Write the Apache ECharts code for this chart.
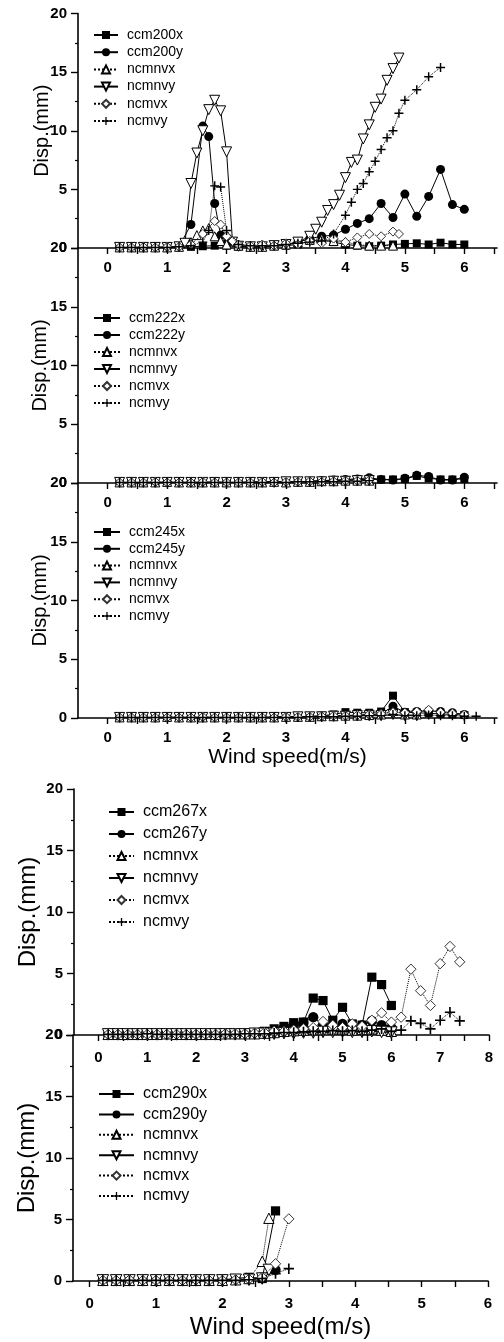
<!DOCTYPE html>
<html><head><meta charset="utf-8">
<script src="https://cdn.jsdelivr.net/npm/echarts@6/dist/echarts.min.js"></script>
<style>html,body{margin:0;padding:0;background:#fff}#c{width:504px;height:1342px}</style>
</head><body><div id="c"></div>
<script>
// ---------- tick labels ----------
const yTicks = [0, 5, 10, 15, 20];
const xLabels6 = [0, 1, 2, 3, 4, 5, 6];
const xTicks6 = [0, 0.5, 1, 1.5, 2, 2.5, 3, 3.5, 4, 4.5, 5, 5.5, 6, 6.5];
const xLabels8 = [0, 1, 2, 3, 4, 5, 6, 7, 8];
const xTicks8 = [0, 0.5, 1, 1.5, 2, 2.5, 3, 3.5, 4, 4.5, 5, 5.5, 6, 6.5, 7, 7.5, 8];
const xTicks6b = [0, 0.5, 1, 1.5, 2, 2.5, 3, 3.5, 4, 4.5, 5, 5.5, 6];

const legendNames1 = ['ccm200x', 'ccm200y', 'ncmnvx', 'ncmnvy', 'ncmvx', 'ncmvy'];
const legendNames2 = ['ccm222x', 'ccm222y', 'ncmnvx', 'ncmnvy', 'ncmvx', 'ncmvy'];
const legendNames3 = ['ccm245x', 'ccm245y', 'ncmnvx', 'ncmnvy', 'ncmvx', 'ncmvy'];
const legendNames4 = ['ccm267x', 'ccm267y', 'ncmnvx', 'ncmnvy', 'ncmvx', 'ncmvy'];
const legendNames5 = ['ccm290x', 'ccm290y', 'ncmnvx', 'ncmnvy', 'ncmvx', 'ncmvy'];

// ---------- panel 1 (ccm200) ----------
const p1_ccmx = [[0.2,0.05],[0.4,0.05],[0.6,0.05],[0.8,0.05],[1.0,0.05],[1.2,0.1],[1.4,0.1],[1.6,0.15],[1.8,0.2],[2.0,0.2],[2.2,0.1],[2.4,0.1],[2.6,0.1],[2.8,0.15],[3.0,0.2],[3.2,0.3],[3.4,0.6],[3.6,0.7],[3.8,0.5],[4.0,0.3],[4.2,0.2],[4.4,0.15],[4.6,0.2],[4.8,0.3],[5.0,0.35],[5.2,0.4],[5.4,0.3],[5.6,0.45],[5.8,0.3],[6.0,0.3]];
const p1_ccmy = [[0.2,0.05],[0.4,0.05],[0.6,0.05],[0.8,0.05],[1.0,0.1],[1.2,0.1],[1.4,2.0],[1.6,10.4],[1.7,9.5],[1.8,3.8],[1.9,1.1],[2.0,0.4],[2.2,0.2],[2.4,0.15],[2.6,0.15],[2.8,0.2],[3.0,0.3],[3.2,0.5],[3.4,0.8],[3.6,1.0],[3.8,1.1],[4.0,1.6],[4.2,2.1],[4.4,2.5],[4.6,3.8],[4.8,2.6],[5.0,4.6],[5.2,2.7],[5.4,4.4],[5.6,6.7],[5.8,3.7],[6.0,3.3]];
const p1_nvx = [[0.2,0.05],[0.4,0.05],[0.6,0.05],[0.8,0.05],[1.0,0.05],[1.2,0.1],[1.4,0.5],[1.5,1.1],[1.6,1.5],[1.7,1.7],[1.8,1.0],[1.9,0.6],[2.0,0.3],[2.2,0.2],[2.4,0.1],[2.6,0.1],[2.8,0.2],[3.0,0.3],[3.2,0.5],[3.4,0.7],[3.6,0.8],[3.8,0.6],[4.0,0.5],[4.2,0.3],[4.4,0.2],[4.6,0.2],[4.8,0.2]];
const p1_nvy = [[0.2,0.05],[0.4,0.05],[0.6,0.05],[0.8,0.05],[1.0,0.05],[1.2,0.1],[1.3,0.4],[1.4,5.5],[1.5,8.1],[1.6,10.0],[1.7,11.8],[1.8,12.6],[1.9,11.7],[2.0,8.2],[2.1,0.5],[2.2,0.15],[2.4,0.1],[2.6,0.1],[2.8,0.2],[3.0,0.3],[3.2,0.5],[3.4,1.0],[3.5,1.6],[3.6,2.2],[3.7,3.2],[3.8,3.7],[3.9,4.5],[4.0,6.0],[4.1,7.3],[4.2,7.5],[4.3,9.3],[4.4,10.5],[4.5,12.0],[4.6,12.7],[4.7,14.3],[4.8,15.3],[4.9,16.2]];
const p1_vx = [[0.2,0.05],[0.4,0.05],[0.6,0.1],[0.8,0.05],[1.0,0.1],[1.2,0.1],[1.4,0.3],[1.6,1.2],[1.8,2.3],[1.9,2.0],[2.0,1.0],[2.1,0.6],[2.2,0.3],[2.4,0.2],[2.6,0.3],[2.8,0.2],[3.0,0.4],[3.2,0.3],[3.4,0.6],[3.6,0.4],[3.8,0.8],[4.0,0.5],[4.2,0.9],[4.4,1.2],[4.6,1.0],[4.8,1.4],[4.9,1.2]];
const p1_vy = [[0.2,0.05],[0.4,0.05],[0.6,0.05],[0.8,0.05],[1.0,0.05],[1.2,0.1],[1.4,0.2],[1.6,0.5],[1.7,1.5],[1.8,5.3],[1.9,5.2],[2.0,1.5],[2.2,0.3],[2.4,0.2],[2.6,0.2],[2.8,0.2],[3.0,0.3],[3.2,0.4],[3.4,0.5],[3.6,0.6],[3.8,1.2],[4.0,2.8],[4.1,3.9],[4.2,5.0],[4.3,5.5],[4.4,6.5],[4.5,7.4],[4.6,8.4],[4.7,9.4],[4.8,10.0],[4.9,11.5],[5.0,12.6],[5.2,13.5],[5.4,14.6],[5.6,15.4]];

// ---------- panel 2 (ccm222) ----------
const p2_ccmx = [[0.2,0.05],[0.4,0.05],[0.6,0.05],[0.8,0.05],[1.0,0.05],[1.2,0.05],[1.4,0.05],[1.6,0.05],[1.8,0.1],[2.0,0.05],[2.2,0.05],[2.4,0.05],[2.6,0.1],[2.8,0.1],[3.0,0.1],[3.2,0.1],[3.4,0.15],[3.6,0.2],[3.8,0.2],[4.0,0.25],[4.2,0.3],[4.4,0.3],[4.6,0.3],[4.8,0.3],[5.0,0.35],[5.2,0.6],[5.4,0.4],[5.6,0.3],[5.8,0.3],[6.0,0.35]];
const p2_ccmy = [[0.2,0.05],[0.4,0.05],[0.6,0.05],[0.8,0.05],[1.0,0.05],[1.2,0.05],[1.4,0.05],[1.6,0.05],[1.8,0.05],[2.0,0.05],[2.2,0.05],[2.4,0.1],[2.6,0.1],[2.8,0.1],[3.0,0.1],[3.2,0.1],[3.4,0.15],[3.6,0.2],[3.8,0.25],[4.0,0.3],[4.2,0.35],[4.4,0.45],[4.6,0.3],[4.8,0.25],[5.0,0.4],[5.2,0.65],[5.4,0.55],[5.6,0.25],[5.8,0.25],[6.0,0.5]];
const p2_nvx = [[0.2,0.05],[0.4,0.05],[0.6,0.05],[0.8,0.05],[1.0,0.1],[1.2,0.05],[1.4,0.05],[1.6,0.05],[1.8,0.05],[2.0,0.05],[2.2,0.05],[2.4,0.05],[2.6,0.05],[2.8,0.1],[3.0,0.05],[3.2,0.1],[3.4,0.1],[3.6,0.15],[3.8,0.15],[4.0,0.2],[4.2,0.2],[4.4,0.2]];
const p2_nvy = [[0.2,0.05],[0.4,0.05],[0.6,0.05],[0.8,0.05],[1.0,0.05],[1.2,0.05],[1.4,0.05],[1.6,0.05],[1.8,0.05],[2.0,0.05],[2.2,0.05],[2.4,0.05],[2.6,0.05],[2.8,0.05],[3.0,0.1],[3.2,0.1],[3.4,0.1],[3.6,0.1],[3.8,0.15],[4.0,0.15],[4.2,0.2],[4.4,0.2]];
const p2_vx = [[0.2,0.05],[0.4,0.05],[0.6,0.05],[0.8,0.1],[1.0,0.05],[1.2,0.05],[1.4,0.05],[1.6,0.1],[1.8,0.05],[2.0,0.05],[2.2,0.05],[2.4,0.05],[2.6,0.1],[2.8,0.05],[3.0,0.1],[3.2,0.1],[3.4,0.15],[3.6,0.1],[3.8,0.15],[4.0,0.2],[4.2,0.2],[4.4,0.25]];
const p2_vy = [[0.2,0.05],[0.4,0.05],[0.6,0.05],[0.8,0.05],[1.0,0.05],[1.2,0.05],[1.4,0.05],[1.6,0.05],[1.8,0.05],[2.0,0.05],[2.2,0.05],[2.4,0.05],[2.6,0.05],[2.8,0.05],[3.0,0.05],[3.2,0.1],[3.4,0.1],[3.6,0.1],[3.8,0.1],[4.0,0.15],[4.2,0.15],[4.4,0.2]];

// ---------- panel 3 (ccm245) ----------
const p3_ccmx = [[0.2,0.05],[0.4,0.05],[0.6,0.05],[0.8,0.05],[1.0,0.05],[1.2,0.05],[1.4,0.05],[1.6,0.05],[1.8,0.05],[2.0,0.05],[2.2,0.05],[2.4,0.05],[2.6,0.05],[2.8,0.1],[3.0,0.1],[3.2,0.1],[3.4,0.15],[3.6,0.2],[3.8,0.3],[4.0,0.5],[4.2,0.45],[4.4,0.45],[4.6,0.55],[4.8,1.9],[5.0,0.5],[5.2,0.45],[5.4,0.4],[5.6,0.35],[5.8,0.3],[6.0,0.25]];
const p3_ccmy = [[0.2,0.05],[0.4,0.05],[0.6,0.05],[0.8,0.05],[1.0,0.05],[1.2,0.05],[1.4,0.05],[1.6,0.05],[1.8,0.05],[2.0,0.05],[2.2,0.05],[2.4,0.05],[2.6,0.05],[2.8,0.05],[3.0,0.1],[3.2,0.1],[3.4,0.1],[3.6,0.15],[3.8,0.2],[4.0,0.2],[4.2,0.25],[4.4,0.3],[4.6,0.35],[4.8,1.0],[5.0,0.5],[5.2,0.55],[5.4,0.6],[5.6,0.55],[5.8,0.45],[6.0,0.3]];
const p3_nvx = [[0.2,0.05],[0.4,0.05],[0.6,0.05],[0.8,0.05],[1.0,0.1],[1.2,0.05],[1.4,0.05],[1.6,0.05],[1.8,0.05],[2.0,0.05],[2.2,0.05],[2.4,0.05],[2.6,0.05],[2.8,0.05],[3.0,0.1],[3.2,0.1],[3.4,0.1],[3.6,0.15],[3.8,0.15],[4.0,0.2],[4.2,0.2],[4.4,0.25],[4.6,0.3],[4.8,0.6],[5.0,0.3],[5.2,0.3]];
const p3_nvy = [[0.2,0.05],[0.4,0.05],[0.6,0.05],[0.8,0.05],[1.0,0.05],[1.2,0.05],[1.4,0.05],[1.6,0.05],[1.8,0.05],[2.0,0.05],[2.2,0.05],[2.4,0.05],[2.6,0.05],[2.8,0.05],[3.0,0.05],[3.2,0.1],[3.4,0.1],[3.6,0.1],[3.8,0.15],[4.0,0.15],[4.2,0.2],[4.4,0.2],[4.6,0.2],[4.8,0.3],[5.0,0.2],[5.2,0.2]];
const p3_vx = [[0.2,0.05],[0.4,0.05],[0.6,0.05],[0.8,0.05],[1.0,0.05],[1.2,0.05],[1.4,0.05],[1.6,0.1],[1.8,0.05],[2.0,0.05],[2.2,0.05],[2.4,0.05],[2.6,0.05],[2.8,0.05],[3.0,0.1],[3.2,0.1],[3.4,0.1],[3.6,0.15],[3.8,0.2],[4.0,0.2],[4.2,0.25],[4.4,0.3],[4.6,0.35],[4.8,0.5],[5.0,0.45],[5.2,0.55],[5.4,0.7],[5.6,0.5],[5.8,0.4],[6.0,0.3]];
const p3_vy = [[0.2,0.05],[0.4,0.05],[0.6,0.05],[0.8,0.05],[1.0,0.05],[1.2,0.05],[1.4,0.05],[1.6,0.05],[1.8,0.05],[2.0,0.05],[2.2,0.05],[2.4,0.05],[2.6,0.05],[2.8,0.05],[3.0,0.05],[3.2,0.05],[3.4,0.1],[3.6,0.1],[3.8,0.1],[4.0,0.15],[4.2,0.15],[4.4,0.2],[4.6,0.2],[4.8,0.3],[5.0,0.2],[5.2,0.2],[5.4,0.25],[5.6,0.2],[5.8,0.2],[6.0,0.15],[6.2,0.15]];

// ---------- panel 4 (ccm267) ----------
const p4_ccmx = [[0.2,0.05],[0.4,0.05],[0.6,0.05],[0.8,0.05],[1.0,0.05],[1.2,0.05],[1.4,0.05],[1.6,0.05],[1.8,0.05],[2.0,0.05],[2.2,0.1],[2.4,0.1],[2.6,0.1],[2.8,0.1],[3.0,0.1],[3.2,0.2],[3.4,0.3],[3.6,0.5],[3.8,0.7],[4.0,1.0],[4.2,1.05],[4.4,3.0],[4.6,2.8],[4.8,1.2],[5.0,2.25],[5.2,0.9],[5.4,0.8],[5.6,4.7],[5.8,4.1],[6.0,2.4]];
const p4_ccmy = [[0.2,0.05],[0.4,0.05],[0.6,0.05],[0.8,0.05],[1.0,0.05],[1.2,0.05],[1.4,0.05],[1.6,0.05],[1.8,0.05],[2.0,0.05],[2.2,0.05],[2.4,0.1],[2.6,0.1],[2.8,0.1],[3.0,0.1],[3.2,0.15],[3.4,0.2],[3.6,0.4],[3.8,0.6],[4.0,0.8],[4.2,1.0],[4.4,1.45],[4.6,0.8],[4.8,0.7],[5.0,0.9],[5.2,0.7],[5.4,0.8],[5.6,1.15],[5.8,0.8],[6.0,0.6]];
const p4_nvx = [[0.2,0.05],[0.4,0.05],[0.6,0.05],[0.8,0.05],[1.0,0.05],[1.2,0.05],[1.4,0.1],[1.6,0.05],[1.8,0.05],[2.0,0.05],[2.2,0.05],[2.4,0.05],[2.6,0.1],[2.8,0.1],[3.0,0.1],[3.2,0.1],[3.4,0.15],[3.6,0.2],[3.8,0.3],[4.0,0.35],[4.2,0.4],[4.4,0.5],[4.6,0.6],[4.8,0.5],[5.0,0.5],[5.2,0.4],[5.4,0.45],[5.6,0.5],[5.8,0.4],[6.0,0.3]];
const p4_nvy = [[0.2,0.05],[0.4,0.05],[0.6,0.05],[0.8,0.05],[1.0,0.05],[1.2,0.05],[1.4,0.05],[1.6,0.05],[1.8,0.05],[2.0,0.05],[2.2,0.05],[2.4,0.05],[2.6,0.05],[2.8,0.05],[3.0,0.05],[3.2,0.1],[3.4,0.1],[3.6,0.1],[3.8,0.15],[4.0,0.15],[4.2,0.2],[4.4,0.2],[4.6,0.25],[4.8,0.25],[5.0,0.3],[5.2,0.25],[5.4,0.25],[5.6,0.3],[5.8,0.25],[6.0,0.2]];
const p4_vx = [[0.2,0.05],[0.4,0.05],[0.6,0.05],[0.8,0.05],[1.0,0.05],[1.2,0.05],[1.4,0.05],[1.6,0.05],[1.8,0.05],[2.0,0.05],[2.2,0.05],[2.4,0.05],[2.6,0.1],[2.8,0.1],[3.0,0.1],[3.2,0.15],[3.4,0.2],[3.6,0.3],[3.8,0.3],[4.0,0.4],[4.2,0.5],[4.4,0.6],[4.6,1.1],[4.8,0.8],[5.0,0.6],[5.2,0.9],[5.4,0.7],[5.6,1.2],[5.8,1.8],[6.0,1.05],[6.2,1.45],[6.4,5.35],[6.6,3.6],[6.8,2.4],[7.0,5.8],[7.2,7.2],[7.4,5.95]];
const p4_vy = [[0.2,0.05],[0.4,0.05],[0.6,0.05],[0.8,0.05],[1.0,0.1],[1.2,0.05],[1.4,0.05],[1.6,0.05],[1.8,0.05],[2.0,0.05],[2.2,0.05],[2.4,0.05],[2.6,0.05],[2.8,0.05],[3.0,0.1],[3.2,0.1],[3.4,0.1],[3.6,0.15],[3.8,0.2],[4.0,0.2],[4.2,0.25],[4.4,0.3],[4.6,0.3],[4.8,0.35],[5.0,0.3],[5.2,0.35],[5.4,0.3],[5.6,0.4],[5.8,0.5],[6.0,0.3],[6.2,0.4],[6.4,1.15],[6.6,0.95],[6.8,0.5],[7.0,1.2],[7.2,1.85],[7.4,1.15]];

// ---------- panel 5 (ccm290) ----------
const p5_ccmx = [[0.2,0.05],[0.4,0.05],[0.6,0.05],[0.8,0.05],[1.0,0.05],[1.2,0.05],[1.4,0.05],[1.6,0.05],[1.8,0.05],[2.0,0.1],[2.2,0.2],[2.4,0.3],[2.6,0.2],[2.8,5.7]];
const p5_ccmy = [[0.2,0.05],[0.4,0.05],[0.6,0.05],[0.8,0.05],[1.0,0.05],[1.2,0.05],[1.4,0.05],[1.6,0.05],[1.8,0.05],[2.0,0.1],[2.2,0.1],[2.4,0.15],[2.6,0.3],[2.8,0.9]];
const p5_nvx = [[0.2,0.05],[0.4,0.05],[0.6,0.05],[0.8,0.05],[1.0,0.05],[1.2,0.05],[1.4,0.05],[1.6,0.05],[1.8,0.05],[2.0,0.05],[2.2,0.1],[2.4,0.2],[2.6,1.6],[2.7,5.1]];
const p5_nvy = [[0.2,0.05],[0.4,0.05],[0.6,0.05],[0.8,0.05],[1.0,0.05],[1.2,0.05],[1.4,0.05],[1.6,0.05],[1.8,0.05],[2.0,0.05],[2.2,0.1],[2.4,0.1],[2.6,0.2],[2.7,0.9]];
const p5_vx = [[0.2,0.05],[0.4,0.05],[0.6,0.1],[0.8,0.05],[1.0,0.05],[1.2,0.05],[1.4,0.05],[1.6,0.1],[1.8,0.05],[2.0,0.05],[2.2,0.1],[2.4,0.15],[2.6,0.3],[2.8,1.4],[3.0,5.05]];
const p5_vy = [[0.2,0.05],[0.4,0.05],[0.6,0.05],[0.8,0.05],[1.0,0.05],[1.2,0.05],[1.4,0.05],[1.6,0.05],[1.8,0.05],[2.0,0.05],[2.2,0.05],[2.4,0.1],[2.6,0.2],[2.8,0.6],[3.0,1.0]];

// ---------- layout ----------
const FONT = '"Liberation Sans", Arial, Helvetica, sans-serif';
const panels = [
  {top: 13.5, height: 234.5, left: 78, width: 419, min: -0.5, max: 6.55, labels: xLabels6, ticks: xTicks6, names: legendNames1,
   data: [p1_ccmx, p1_ccmy, p1_nvx, p1_nvy, p1_vx, p1_vy], lg: {left: 88, top: 23, gap: 3.2, fs: 14, iw: 24}, xName: '', ms: 1, lblMargin: 12, nameFs: 20, nameGap: 26},
  {top: 248, height: 235, left: 78, width: 419, min: -0.5, max: 6.55, labels: xLabels6, ticks: xTicks6, names: legendNames2,
   data: [p2_ccmx, p2_ccmy, p2_nvx, p2_nvy, p2_vx, p2_vy], lg: {left: 88, top: 306, gap: 3, fs: 14, iw: 26}, xName: '', ms: 1, lblMargin: 12, nameFs: 20, nameGap: 28},
  {top: 483, height: 235, left: 78, width: 419, min: -0.5, max: 6.55, labels: xLabels6, ticks: xTicks6, names: legendNames3,
   data: [p3_ccmx, p3_ccmy, p3_nvx, p3_nvy, p3_vx, p3_vy], lg: {left: 88, top: 520, gap: 2.8, fs: 14, iw: 26}, xName: 'Wind speed(m/s)', xNameFs: 21, xNameGap: 29, ms: 1, lblMargin: 12, nameFs: 20, nameGap: 28},
  {top: 789, height: 246, left: 74, width: 415, min: -0.5, max: 8, labels: xLabels8, ticks: xTicks8, names: legendNames4,
   data: [p4_ccmx, p4_ccmy, p4_nvx, p4_nvy, p4_vx, p4_vy], lg: {left: 103, top: 799, gap: 6, fs: 16, iw: 25}, xName: '', ms: 1.15, lblMargin: 15, nameFs: 24, nameGap: 34},
  {top: 1035, height: 246, left: 73, width: 415, min: -0.25, max: 6, labels: xLabels6, ticks: xTicks6b, names: legendNames5,
   data: [p5_ccmx, p5_ccmy, p5_nvx, p5_nvy, p5_vx, p5_vy], lg: {left: 93, top: 1081, gap: 4.4, fs: 16, iw: 35}, xName: 'Wind speed(m/s)', xNameFs: 24, xNameGap: 34, ms: 1.15, lblMargin: 15, nameFs: 24, nameGap: 34}
];

const PLUS = 'path://M4.2,0H5.8V4.2H10V5.8H5.8V10H4.2V5.8H0V4.2H4.2Z';
// marker styles for the six series kinds
const kinds = [
  {symbol: 'rect', size: 8, fill: '#000', line: 'solid', lw: 1},
  {symbol: 'circle', size: 9, fill: '#000', line: 'solid', lw: 1},
  {symbol: 'triangle', size: 9, fill: '#fff', line: 'dotted', lw: 1},
  {symbol: 'triangle', size: 10, fill: '#fff', line: 'solid', lw: 1, rotate: 180},
  {symbol: 'diamond', size: 9, fill: '#fff', line: 'dotted', lw: 1, border: '#333'},
  {symbol: PLUS, size: 9, fill: '#000', line: 'dotted', lw: 1}
];

const grid = [], xAxis = [], yAxis = [], legend = [], series = [];
panels.forEach((p, i) => {
  grid.push({left: p.left, top: p.top, width: p.width, height: p.height, containLabel: false});
  xAxis.push({
    type: 'value', gridIndex: i, min: p.min, max: p.max,
    name: p.xName, nameLocation: 'middle', nameGap: p.xNameGap || 20, nameMoveOverlap: false,
    nameTextStyle: {fontSize: p.xNameFs || 20, color: '#000', fontFamily: FONT},
    axisLine: {show: true, onZero: false, lineStyle: {color: '#000', width: 1.6}},
    axisTick: {show: true, inside: false, length: 6, customValues: p.ticks, lineStyle: {color: '#000', width: 1.4}},
    axisLabel: {show: true, customValues: p.labels, margin: p.lblMargin, color: '#000', fontSize: 15, fontWeight: 'bold', fontFamily: FONT},
    splitLine: {show: false}
  });
  yAxis.push({
    type: 'value', gridIndex: i, min: 0, max: 20, interval: 5,
    name: 'Disp.(mm)', nameLocation: 'middle', nameGap: p.nameGap, nameMoveOverlap: false,
    nameTextStyle: {fontSize: p.nameFs, color: '#000', fontFamily: FONT},
    axisLine: {show: true, onZero: false, lineStyle: {color: '#000', width: 1.6}},
    axisTick: {show: true, inside: false, length: 7, lineStyle: {color: '#000', width: 1.4}},
    minorTick: {show: true, splitNumber: 2, length: 3, lineStyle: {color: '#000', width: 1.2}},
    axisLabel: {show: true, margin: 11, color: '#000', fontSize: 15, fontWeight: 'bold', fontFamily: FONT,
      customValues: yTicks},
    splitLine: {show: false}
  });
  legend.push({
    orient: 'vertical', left: p.lg.left, top: p.lg.top, itemGap: p.lg.gap,
    itemWidth: p.lg.iw, itemHeight: 10, selectedMode: false,
    data: p.names.map(n => n + '#' + i),
    formatter: name => name.split('#')[0],
    textStyle: {fontSize: p.lg.fs, color: '#000', fontFamily: FONT, padding: [0, 0, 0, 4]}
  });
  p.data.forEach((d, k) => {
    const kd = kinds[k];
    series.push({
      type: 'line', name: p.names[k] + '#' + i, xAxisIndex: i, yAxisIndex: i, data: d,
      symbol: kd.symbol, symbolSize: kd.size * p.ms, symbolRotate: kd.rotate || 0,
      showAllSymbol: true, animation: false, silent: true,
      lineStyle: {color: '#000', width: kd.lw, type: kd.line},
      itemStyle: {color: kd.fill, borderColor: kd.border || '#000', borderWidth: kd.fill === '#fff' ? 1 : 0},
      z: 2 + k
    });
  });
});

const chart = echarts.init(document.getElementById('c'), null, {renderer: 'canvas'});
chart.setOption({backgroundColor: '#fff', animation: false, grid, xAxis, yAxis, legend, series});
</script></body></html>
